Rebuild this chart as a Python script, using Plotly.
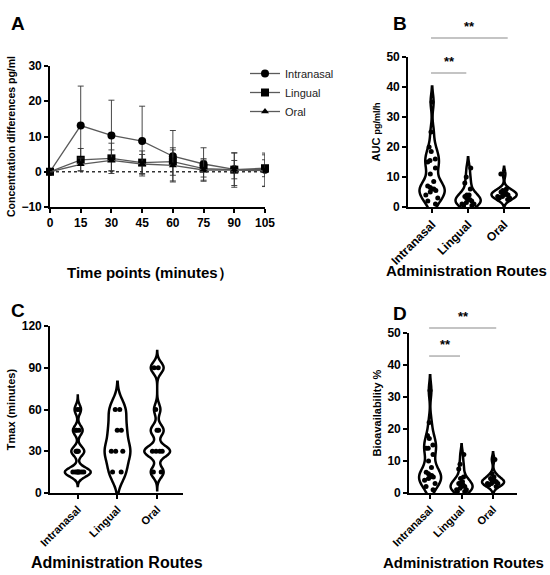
import plotly.graph_objects as go

# ---------------- Data ----------------
time_points = [0, 15, 30, 45, 60, 75, 90, 105]
intranasal_mean = [0, 13.1, 10.3, 8.7, 4.4, 2.2, 0.7, 0.6]
intranasal_sd = [0, 11.2, 10.0, 9.9, 7.3, 4.6, 4.6, 4.7]
lingual_mean = [0, 3.4, 3.8, 2.6, 2.9, 0.9, 0.6, 1.0]
lingual_sd = [0, 3.2, 4.3, 3.3, 3.9, 2.4, 2.6, 2.4]
oral_mean = [0, 2.1, 3.2, 2.2, 1.8, 0.5, 0.5, 0.3]
oral_sd = [0, 1.8, 3.0, 2.7, 4.4, 3.2, 4.9, 4.5]

routes = ["Intranasal", "Lingual", "Oral"]

auc_intranasal = [35, 25, 20, 18.5, 16, 15.5, 15, 13, 11, 8.5, 7, 6.5, 6, 6, 5.5, 5, 4, 3, 2, 1]
auc_lingual = [13, 10, 8, 6, 4, 4, 3.5, 3, 2.5, 2.5, 2, 1.5, 1, 1, 0.5, 0.5]
auc_oral = [11, 6, 5.5, 5, 5, 4.5, 4.5, 4, 4, 3.5, 3.5, 3, 3, 2.5]

tmax_intranasal = [15, 15, 15, 15, 15, 15, 15, 15, 30, 30, 30, 30, 45, 45, 45, 60, 60]
tmax_lingual = [15, 15, 30, 30, 30, 45, 45, 60, 60]
tmax_oral = [15, 15, 30, 30, 30, 30, 45, 45, 60, 90, 90]

bio_intranasal = [32, 22, 18, 17, 15, 14, 14, 12, 10, 8, 6.5, 6, 5.5, 5, 5, 4.5, 4, 3, 2, 1]
bio_lingual = [12, 9, 7.5, 5, 4.5, 3.5, 3, 2.5, 2, 2, 1.5, 1, 1, 0.5, 0.5, 3]
bio_oral = [10.5, 6, 5, 4.5, 4, 3.5, 3.5, 3, 3, 2.5, 2, 4, 3]

comparisons = [("Intranasal", "Lingual", "**"), ("Intranasal", "Oral", "**")]

# ---------------- Styling ----------------
FONT = "Arial, Liberation Sans, sans-serif"
W, H = 550, 575

def px_x(p):
    return p / W

def px_y(p):
    return 1 - p / H

fig = go.Figure()

# Panel A
line_col = "#5a5a5a"
for name, m, sd, sym in [("Intranasal", intranasal_mean, intranasal_sd, "circle"),
                         ("Lingual", lingual_mean, lingual_sd, "square"),
                         ("Oral", oral_mean, oral_sd, "triangle-up")]:
    fig.add_trace(go.Scatter(
        x=time_points, y=m, name=name, mode="lines+markers",
        line=dict(color=line_col, width=1.3),
        marker=dict(symbol=sym, size=8 if sym != "triangle-up" else 7, color="black"),
        error_y=dict(type="data", array=sd, visible=True, color="#333333", thickness=0.9, width=3),
        cliponaxis=False, xaxis="x", yaxis="y"))

# Violin panels
def add_violins(groups, xa, ya, bw, width, pads=None):
    for i, (name, vals) in enumerate(zip(routes, groups)):
        kw = dict(bandwidth=bw[i])
        if pads is not None:
            lo, hi = pads[i]
            kw.update(spanmode="manual", span=[min(vals) - lo, max(vals) + hi])
        else:
            kw.update(spanmode="soft")
        fig.add_trace(go.Violin(
            x=[name] * len(vals), y=vals, name=name, showlegend=False,
            line=dict(color="black", width=2.5), fillcolor="white",
            points="all", pointpos=0, jitter=0.6,
            marker=dict(color="black", size=5),
            width=width, box_visible=False, meanline_visible=False,
            hoveron="violins+points",
            xaxis=xa, yaxis=ya, **kw))

add_violins([auc_intranasal, auc_lingual, auc_oral], "x2", "y2", bw=[2.6, 1.8, 1.2], width=0.7)
add_violins([tmax_intranasal, tmax_lingual, tmax_oral], "x3", "y3", bw=[3.3, 7.5, 4], width=0.65,
            pads=[(10, 10), (15, 20), (13, 12)])
add_violins([bio_intranasal, bio_lingual, bio_oral], "x4", "y4", bw=[2.4, 1.6, 1.1], width=0.7)

def axis_style(fs=12):
    return dict(showline=True, linecolor="black", linewidth=1.6, ticks="outside",
                tickcolor="black", tickwidth=1.6, ticklen=4, showgrid=False, zeroline=False,
                automargin=False,
                tickfont=dict(family=FONT, size=fs, color="black", weight="bold"))

DOM = {
    "y": ([px_y(207), px_y(66)], [-10, 30]),
    "y2": ([px_y(207), px_y(57)], [0, 50]),
    "y3": ([px_y(493), px_y(326)], [0, 120]),
    "y4": ([px_y(493), px_y(333)], [0, 50]),
}

fig.update_layout(
    width=W, height=H, autosize=False, margin=dict(l=0, r=0, t=0, b=0),
    paper_bgcolor="white", plot_bgcolor="white",
    font=dict(family=FONT, color="black"),
    violinmode="overlay",
    xaxis=dict(domain=[px_x(50), px_x(265)], range=[0, 105], tickvals=time_points,
               anchor="y", **axis_style()),
    yaxis=dict(domain=DOM["y"][0], range=DOM["y"][1], tickvals=[-10, 0, 10, 20, 30],
               anchor="x",
               title=dict(text="<b>Concentration differences pg/ml</b>", font=dict(size=10.5), standoff=4),
               **axis_style()),
    xaxis2=dict(domain=[px_x(408), px_x(530)], type="category", range=[-0.67, 2.72],
                tickangle=-45, anchor="y2", **axis_style(12)),
    yaxis2=dict(domain=DOM["y2"][0], range=DOM["y2"][1], tickvals=[0, 10, 20, 30, 40, 50],
                anchor="x2",
                title=dict(text="<b>AUC <span style='font-size:9px'>pg/ml/h</span></b>", font=dict(size=11), standoff=4),
                **axis_style()),
    xaxis3=dict(domain=[px_x(50), px_x(183)], type="category", range=[-0.7, 2.65],
                tickangle=-45, anchor="y3", **axis_style(11)),
    yaxis3=dict(domain=DOM["y3"][0], range=DOM["y3"][1], tickvals=[0, 30, 60, 90, 120],
                anchor="x3",
                title=dict(text="<b>Tmax (minutes)</b>", font=dict(size=11), standoff=4),
                **axis_style()),
    xaxis4=dict(domain=[px_x(409), px_x(517)], type="category", range=[-0.67, 2.76],
                tickangle=-45, anchor="y4", **axis_style(11)),
    yaxis4=dict(domain=DOM["y4"][0], range=DOM["y4"][1], tickvals=[0, 10, 20, 30, 40, 50],
                anchor="x4",
                title=dict(text="<b>Bioavailability %</b>", font=dict(size=11), standoff=4),
                **axis_style()),
    legend=dict(x=px_x(245), y=px_y(59), xanchor="left", yanchor="top",
                font=dict(family=FONT, size=11, color="#222222"),
                bgcolor="rgba(0,0,0,0)", itemwidth=30, tracegroupgap=2),
)

# zero reference line in A
fig.add_shape(type="line", xref="x domain", yref="y", x0=0, x1=1, y0=0, y1=0,
              line=dict(color="#333333", width=1.3, dash="dot"))

def to_paper(ya, v):
    (d0, d1), (r0, r1) = DOM[ya]
    return d0 + (v - r0) / (r1 - r0) * (d1 - d0)

# significance brackets
def add_sig(xa, ya, levels):
    for (a, b, lab), lev in zip(comparisons, levels):
        i0 = routes.index(a)
        i1 = routes.index(b) + (0.1 if b == "Oral" else -0.05)
        yp = to_paper(ya, lev)
        fig.add_shape(type="line", xref=xa, yref="paper", x0=i0 - 0.03, x1=i1, y0=yp, y1=yp,
                      line=dict(color="#b0b0b0", width=1.5))
        fig.add_annotation(xref=xa, yref="paper", x=(i0 + i1) / 2, y=yp + 2 / H, text=f"<b>{lab}</b>",
                           showarrow=False, font=dict(size=13, color="black"), yanchor="bottom")

add_sig("x2", "y2", [44.7, 56.3])
add_sig("x4", "y4", [42.8, 51.6])

# panel letters and x-titles
for txt, x, y in [("A", 18, 23), ("B", 400, 23), ("C", 18, 310), ("D", 400, 313)]:
    fig.add_annotation(xref="paper", yref="paper", x=px_x(x), y=px_y(y), text=f"<b>{txt}</b>",
                       showarrow=False, font=dict(size=19, color="black"), xanchor="center", yanchor="middle")

for txt, x, y, fs in [("Time points (minutes）", 150, 272, 15), ("Administration Routes", 466, 270, 15),
                      ("Administration Routes", 117, 562, 16), ("Administration Routes", 463, 562, 15)]:
    fig.add_annotation(xref="paper", yref="paper", x=px_x(x), y=px_y(y), text=f"<b>{txt}</b>",
                       showarrow=False, font=dict(size=fs, color="black"), xanchor="center", yanchor="middle")

fig.write_html("out.html", config={"displayModeBar": False},
               post_script="document.body.style.margin='0';document.body.style.padding='0';document.body.style.overflow='hidden';")
